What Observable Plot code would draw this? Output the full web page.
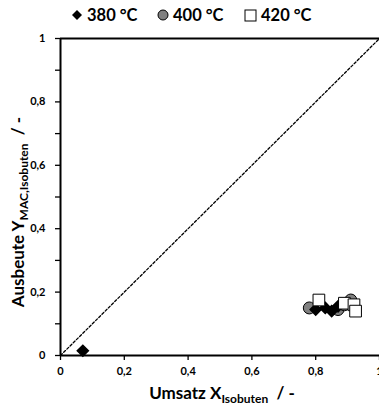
<!DOCTYPE html>
<html>
<head>
<meta charset="utf-8">
<script src="https://cdn.jsdelivr.net/npm/d3@7"></script>
<script src="https://cdn.jsdelivr.net/npm/@observablehq/plot@0.6"></script>
<style>
  body { margin: 0; background: white; font-family: Lato, "Open Sans", sans-serif; }
  #wrap { position: relative; width: 379px; }
  #legend { position: relative; height: 30px; font-weight: bold; font-size: 16.5px; color: black; }
  #legend .item { position: absolute; top: 5px; display: flex; align-items: center; white-space: nowrap; }
  #legend svg { margin-right: 4px; }
</style>
</head>
<body>
<div id="wrap">
  <div id="legend"></div>
  <div id="chart"></div>
</div>
<script>
// ---- data ----
const series = ["380 °C", "400 °C", "420 °C"];
const conv380 = [0.07, 0.80, 0.83, 0.85, 0.87];
const yield380 = [0.015, 0.145, 0.15, 0.14, 0.155];
const conv400 = [0.78, 0.87, 0.89, 0.91];
const yield400 = [0.15, 0.145, 0.16, 0.175];
const conv420 = [0.81, 0.89, 0.92, 0.925];
const yield420 = [0.175, 0.165, 0.16, 0.14];
const diagonal = [0, 1];
const xTickValues = [0, 0.2, 0.4, 0.6, 0.8, 1];
const xTickLabels = ["0", "0,2", "0,4", "0,6", "0,8", "1"];
const yTickValues = [0, 0.1, 0.2, 0.3, 0.4, 0.5, 0.6, 0.7, 0.8, 0.9, 1];
const yTickLabels = ["0", "", "0,2", "", "0,4", "", "0,6", "", "0,8", "", "1"];

const d380 = conv380.map((x, i) => ({x, y: yield380[i]}));
const d400 = conv400.map((x, i) => ({x, y: yield400[i]}));
const d420 = conv420.map((x, i) => ({x, y: yield420[i]}));

// ---- legend ----
const legend = document.getElementById("legend");
const legItems = [
  {left: 71, sym: '<svg width="12" height="12"><path d="M6,1 L11,6 L6,11 L1,6Z" fill="black"/></svg>'},
  {left: 157, sym: '<svg width="12" height="12"><circle cx="6" cy="6" r="5" fill="#808080" stroke="black" stroke-width="1"/></svg>'},
  {left: 244, sym: '<svg width="13" height="13"><rect x="1" y="1" width="11" height="11" fill="white" stroke="black" stroke-width="1"/></svg>'}
];
legItems.forEach((it, i) => {
  const d = document.createElement("div");
  d.className = "item";
  d.style.left = it.left + "px";
  d.innerHTML = it.sym + "<span>" + series[i] + "</span>";
  legend.appendChild(d);
});

// ---- chart ----
const fmtX = d => xTickLabels[xTickValues.findIndex(v => Math.abs(v - d) < 1e-9)];
const fmtY = d => yTickLabels[yTickValues.findIndex(v => Math.abs(v - d) < 1e-9)];

const plot = Plot.plot({
  width: 379,
  height: 378,
  marginTop: 8,
  marginBottom: 53,
  marginLeft: 60,
  marginRight: 0,
  x: {domain: [0, 1]},
  y: {domain: [0, 1]},
  style: {fontFamily: "Lato, 'Open Sans', sans-serif", fontWeight: "bold", fontSize: "11px", color: "black", background: "white"},
  marks: [
    Plot.axisY({ticks: yTickValues, tickFormat: fmtY, tickSize: 5, tickPadding: 10, label: null, strokeWidth: 1.3}),
    Plot.axisX({ticks: xTickValues, tickFormat: fmtX, tickSize: 5, tickPadding: 7, label: null, strokeWidth: 1.3}),
    Plot.line(diagonal, {x: d => d, y: d => d, stroke: "black", strokeWidth: 1.3, strokeDasharray: "2.5,2"}),
    Plot.ruleX([0], {stroke: "black", strokeWidth: 2}),
    Plot.ruleY([0], {stroke: "black", strokeWidth: 2}),
    Plot.ruleY([1], {stroke: "black", strokeWidth: 2}),
    Plot.dot(d400, {x: "x", y: "y", symbol: "circle", r: 6, fill: "#808080", stroke: "black", strokeWidth: 1}),
    Plot.dot(d380, {x: "x", y: "y", symbol: "diamond2", r: 5, fill: "black", stroke: "black"}),
    Plot.dot(d420, {x: "x", y: "y", symbol: "square", r: 6.6, fill: "white", stroke: "black", strokeWidth: 1})
  ]
});
document.getElementById("chart").appendChild(plot);

// axis titles with subscripts
const svg = d3.select(plot);
const xt = svg.append("text")
  .attr("x", 222).attr("y", 369)
  .attr("text-anchor", "middle")
  .style("font-size", "17px").style("font-weight", "bold").attr("fill", "black");
xt.append("tspan").text("Umsatz X");
xt.append("tspan").attr("dy", 4).style("font-size", "12px").text("Isobuten");
xt.append("tspan").attr("dy", -4).text("  / -").attr("xml:space", "preserve");

const yt = svg.append("text")
  .attr("transform", "translate(24,182) rotate(-90)")
  .attr("text-anchor", "middle")
  .style("font-size", "17px").style("font-weight", "bold").attr("fill", "black");
yt.append("tspan").text("Ausbeute Y");
yt.append("tspan").attr("dy", 4).style("font-size", "12px").text("MAC,Isobuten");
yt.append("tspan").attr("dy", -4).text("  / -").attr("xml:space", "preserve");
</script>
</body>
</html>
